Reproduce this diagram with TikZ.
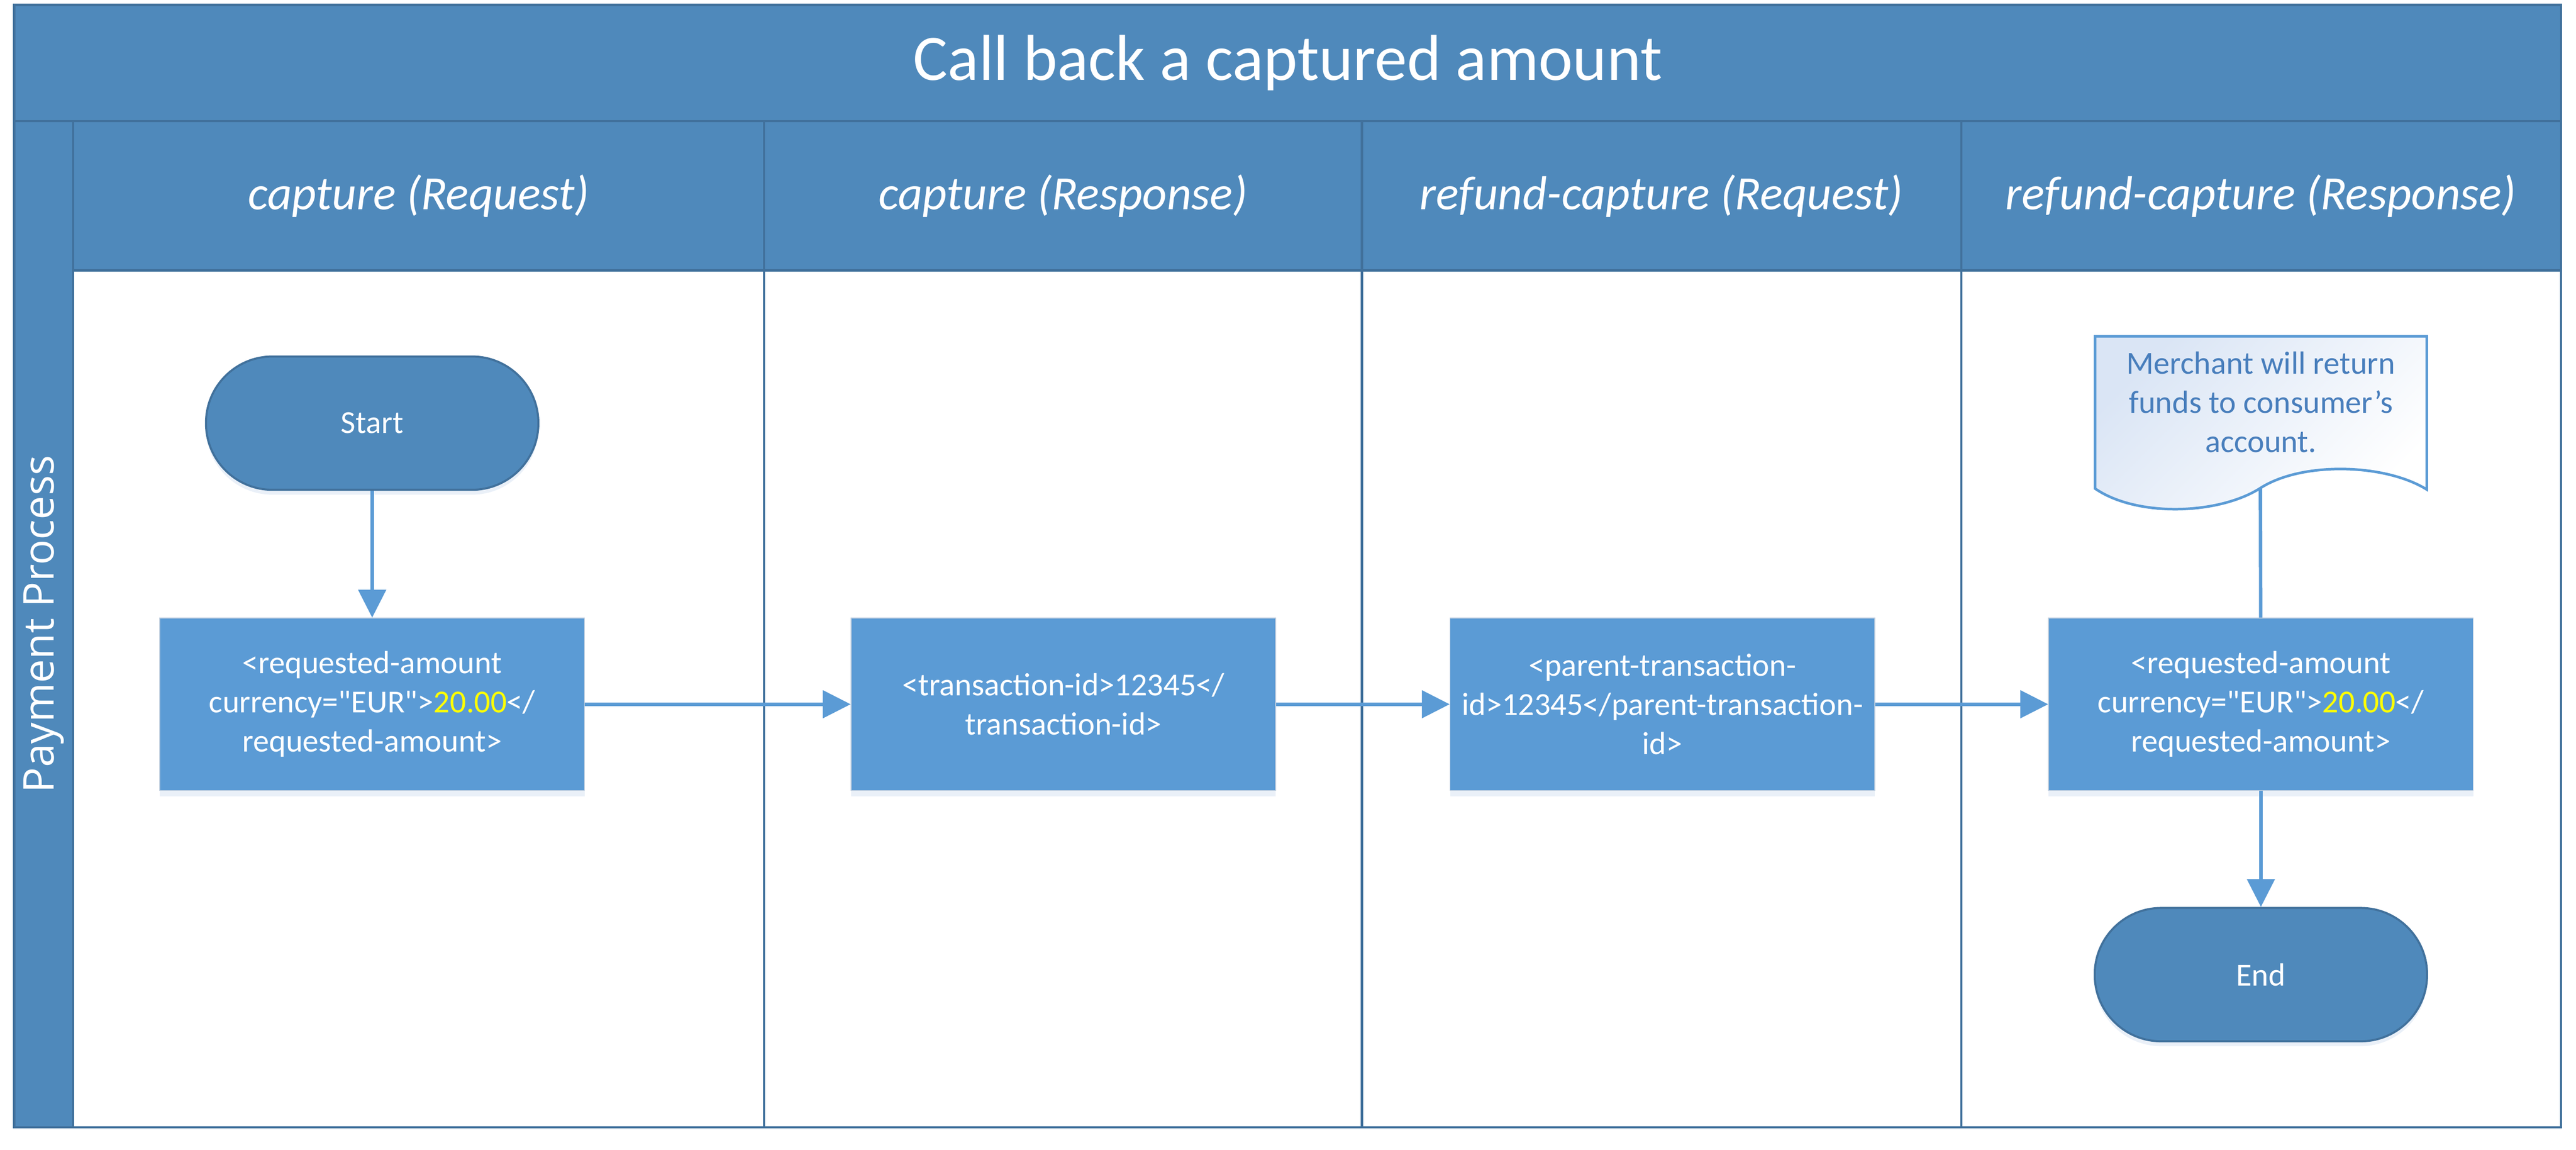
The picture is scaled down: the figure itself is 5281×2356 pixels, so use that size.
\documentclass[tikz,border=0pt]{standalone}
\usepackage{fontspec}
\setmainfont{Carlito}
\newfontfamily\poolfamily{Open Sans}
\usepackage{tikz}
\usetikzlibrary{arrows.meta,shadows}

\definecolor{hdrblue}{RGB}{79,137,187}
\definecolor{edgeblue}{RGB}{65,113,156}
\definecolor{boxblue}{RGB}{91,155,213}
\definecolor{boxedge}{RGB}{190,205,222}
\definecolor{shadeblue}{RGB}{214,227,242}
\definecolor{docfill}{RGB}{218,229,245}
\definecolor{doctext}{RGB}{72,126,188}
\definecolor{amt}{RGB}{255,255,0}

\newcommand\boxfont{\fontsize{18.7}{22.8}\selectfont}
\newcommand\headfont{\fontsize{27.8}{33}\selectfont\itshape}
\newcommand\titlefont{\fontsize{37.8}{45}\selectfont}
\newcommand\poolfont{\poolfamily\fontsize{24.7}{30}\selectfont}
\newcommand\qt{\textquotedbl}

\begin{document}
\begin{tikzpicture}[x=0.01cm,y=-0.01cm,
	lane/.style={draw=edgeblue,line width=1.3pt},
	head/.style={text=white,font=\headfont},
	proc/.style={draw=boxedge,line width=0.5pt,fill=boxblue,text=white,align=center,font=\boxfont,
		minimum width=8.7cm,minimum height=3.53cm,
		drop shadow={shadow xshift=0pt,shadow yshift=-0.12cm,fill=shadeblue,opacity=0.5}},
	term/.style={draw=edgeblue,line width=1.2pt,fill=hdrblue,text=white,font=\boxfont,
		rounded corners=1.36cm,minimum width=6.81cm,minimum height=2.73cm,
		drop shadow={shadow xshift=0pt,shadow yshift=-0.1cm,fill=shadeblue,opacity=0.5}},
	link/.style={draw=boxblue,line width=2pt},
	flow/.style={link,-{Triangle[length=0.57cm,width=0.56cm]}}]
	\useasboundingbox (0,0) rectangle (5281,2356);
	\fill[white] (0,0) rectangle (5281,2356);

	\fill[hdrblue] (29,10) rectangle (5250,248);
	\fill[hdrblue] (29,248) rectangle (150,2310);
	\fill[hdrblue] (150,248) rectangle (5250,554);
	\draw[lane] (29,10) rectangle (5250,2310);
	\draw[lane] (29,248) -- (5250,248);
	\draw[lane] (150,554) -- (5250,554);
	\foreach \x in {150,1566,2792,4021}
		\draw[lane] (\x,248) -- (\x,2310);

	\node[text=white,font=\titlefont] (title) at (2640,129) {Call back a captured amount};
	\node[text=white,font=\poolfont,rotate=90] (pool) at (90,1279) {Payment Process};
	\foreach \n/\x/\t in {1/858/capture (Request),2/2179/capture (Response),3/3406/refund-capture (Request),4/4635/refund-capture (Response)}
		\node[head] (hd_\n) at (\x,401) {\t};

	\draw[draw=boxblue,line width=1.5pt,top color=docfill,bottom color=white,shading angle=45]
		(4295,689) -- (4975,689) -- (4975,1003)
		.. controls (4890,950) and (4720,945) .. (4634,1000)
		.. controls (4548,1055) and (4380,1060) .. (4295,1001) -- cycle;
	\node[text=doctext,align=center,font=\boxfont] (doc) at (4635,824) {Merchant will return\\funds to consumer's\\account.};
	\coordinate (doc_b) at (4634,1000);

	\node[term] (start) at (763,867) {Start};
	\node[proc] (box_1) at (763,1443) {<requested-amount\\currency=\qt EUR\qt>\textcolor{amt}{20.00}</\\requested-amount>};
	\node[proc] (box_2) at (2180,1443) {<transaction-id>12345</\\transaction-id>};
	\node[proc] (box_3) at (3408,1443) {<parent-transaction-\\id>12345</parent-transaction-\\id>};
	\node[proc] (box_4) at (4635,1443) {<requested-amount\\currency=\qt EUR\qt>\textcolor{amt}{20.00}</\\requested-amount>};
	\node[term] (stop) at (4635,1997) {End};

	\draw[flow] (start) -- (box_1);
	\draw[flow] (box_1) -- (box_2);
	\draw[flow] (box_2) -- (box_3);
	\draw[flow] (box_3) -- (box_4);
	\draw[link] (doc_b) -- (box_4);
	\draw[flow] (box_4) -- (stop);
\end{tikzpicture}
\end{document}
